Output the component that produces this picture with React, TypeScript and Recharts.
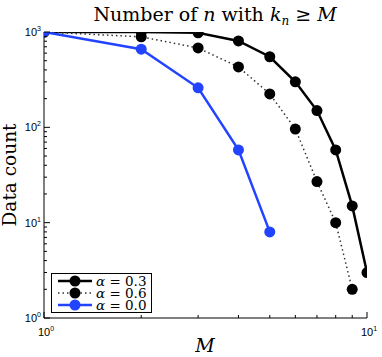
import React from "react";
import { Customized, Line, LineChart, XAxis, YAxis } from "recharts";

const M = [1, 2, 3, 4, 5, 6, 7, 8, 9, 10];
const alpha03 = [1000, 1000, 980, 805, 550, 300, 150, 58, 15, 3];
const alpha06 = [1000, 890, 680, 430, 224, 96, 27, 10, 2];
const alpha00 = [1000, 660, 260, 58, 8];

const xTicks = [1, 2, 3, 4, 5, 6, 7, 8, 9, 10];
const yTicks = [
  1, 2, 3, 4, 5, 6, 7, 8, 9, 10, 20, 30, 40, 50, 60, 70, 80, 90, 100, 200,
  300, 400, 500, 600, 700, 800, 900, 1000,
];
const decades: Record<number, string> = { 1: "0", 10: "1", 100: "2", 1000: "3" };

const BLUE = "#2244ff";
const serif = "'DejaVu Serif', 'Liberation Serif', serif";
const sans = "'Liberation Sans', Arial, sans-serif";

const data = M.map((m, i) => ({
  m,
  a03: alpha03[i],
  a06: alpha06[i],
  a00: alpha00[i],
}));

function Pow({ x, y, exp, anchor }: { x: number; y: number; exp: string; anchor: string }) {
  return (
    <text x={x} y={y} fontFamily={sans} fontSize={11} fill="#000" textAnchor={anchor}>
      10
      <tspan dy={-5} fontSize={7}>
        {exp}
      </tspan>
    </text>
  );
}

const BottomTick = (props: any) => {
  const { x, y, payload } = props;
  const exp = decades[payload.value];
  const len = exp ? 6 : 3;
  return (
    <g>
      <line x1={x} y1={y} x2={x} y2={y - len} stroke="#000" />
      {exp && <Pow x={x + 2} y={y + 18} exp={exp} anchor="middle" />}
    </g>
  );
};

const TopTick = (props: any) => {
  const { x, y, payload } = props;
  const len = decades[payload.value] ? 6 : 3;
  return <line x1={x} y1={y} x2={x} y2={y + len} stroke="#555" />;
};

const LeftTick = (props: any) => {
  const { x, y, payload } = props;
  const exp = decades[payload.value];
  const len = exp ? 6 : 3;
  return (
    <g>
      <line x1={x} y1={y} x2={x + len} y2={y} stroke="#000" />
      {exp && <Pow x={x - 3} y={y + 4} exp={exp} anchor="end" />}
    </g>
  );
};

const RightTick = (props: any) => {
  const { x, y, payload } = props;
  const len = decades[payload.value] ? 6 : 3;
  return <line x1={x} y1={y} x2={x - len} y2={y} stroke="#888" />;
};

const legendItems = [
  { label: "0.3", color: "#000", line: "#000", dash: undefined as string | undefined },
  { label: "0.6", color: "#000", line: "#333", dash: "1.5 3" },
  { label: "0.0", color: BLUE, line: BLUE, dash: undefined },
];

const Overlay = () => (
  <g>
    <g transform="translate(51,273)">
      <rect x={0.5} y={0.5} width={100} height={39} fill="#fff" stroke="#000" />
      {legendItems.map((it, i) => {
        const cy = 8 + i * 12;
        return (
          <g key={it.label}>
            <line
              x1={7}
              x2={41}
              y1={cy}
              y2={cy}
              stroke={it.line}
              strokeWidth={it.dash ? 1.5 : 2.5}
              strokeDasharray={it.dash}
            />
            <circle cx={24} cy={cy} r={5.5} fill={it.color} />
            <text x={45} y={cy + 5} fontFamily={serif} fontSize={13.5} fill="#000">
              <tspan fontStyle="italic">α</tspan> = {it.label}
            </text>
          </g>
        );
      })}
    </g>
    <g fontFamily={serif} fill="#000">
      <text x={215} y={21} textAnchor="middle" fontSize={19}>
        Number of <tspan fontStyle="italic">n</tspan> with{" "}
        <tspan fontStyle="italic">k</tspan>
        <tspan fontStyle="italic" fontSize={12} dy={4}>
          n
        </tspan>
        <tspan dy={-4}> ≥ </tspan>
        <tspan fontStyle="italic">M</tspan>
      </text>
      <text
        x={16}
        y={175}
        textAnchor="middle"
        fontSize={18.5}
        transform="rotate(-90 16 175)"
      >
        Data count
      </text>
      <text x={205} y={352} textAnchor="middle" fontSize={19} fontStyle="italic">
        M
      </text>
    </g>
  </g>
);

const Dot = (color: string) => (p: any) =>
  p.cx == null || p.cy == null || p.value == null ? (
    <g key={p.key} />
  ) : (
    <circle key={p.key} cx={p.cx} cy={p.cy} r={5.5} fill={color} stroke="none" />
  );

export default function App() {
  return (
    <div style={{ position: "absolute", left: 0, top: 0, background: "#fff" }}>
      <LineChart
        width={382}
        height={357}
        data={data}
        margin={{ top: 32, right: 15, left: 0, bottom: 0 }}
      >
        <XAxis
          dataKey="m"
          type="number"
          scale="log"
          domain={[1, 10]}
          ticks={xTicks}
          allowDataOverflow
          height={39}
          tickSize={0}
          tickMargin={0}
          tick={BottomTick}
          axisLine={{ stroke: "#000" }}
          interval={0}
        />
        <XAxis
          xAxisId="top"
          orientation="top"
          dataKey="m"
          type="number"
          scale="log"
          domain={[1, 10]}
          ticks={xTicks}
          allowDataOverflow
          height={0}
          tickSize={0}
          tickMargin={0}
          tick={TopTick}
          axisLine={{ stroke: "#333" }}
          interval={0}
        />
        <YAxis
          type="number"
          scale="log"
          domain={[1, 1000]}
          ticks={yTicks}
          allowDataOverflow
          width={44}
          tickSize={0}
          tickMargin={0}
          tick={LeftTick}
          axisLine={{ stroke: "#000" }}
          interval={0}
        />
        <YAxis
          yAxisId="right"
          orientation="right"
          type="number"
          scale="log"
          domain={[1, 1000]}
          ticks={yTicks}
          allowDataOverflow
          width={0}
          tickSize={0}
          tickMargin={0}
          tick={RightTick}
          axisLine={{ stroke: "#888" }}
          interval={0}
        />
        <Line
          dataKey="a03"
          stroke="#000"
          strokeWidth={2.5}
          dot={Dot("#000")}
          isAnimationActive={false}
        />
        <Line
          dataKey="a06"
          stroke="#333"
          strokeWidth={1.5}
          strokeDasharray="1.5 3"
          dot={Dot("#000")}
          isAnimationActive={false}
        />
        <Line
          dataKey="a00"
          stroke={BLUE}
          strokeWidth={2.5}
          dot={Dot(BLUE)}
          isAnimationActive={false}
        />
        <Customized component={Overlay} />
      </LineChart>
    </div>
  );
}
